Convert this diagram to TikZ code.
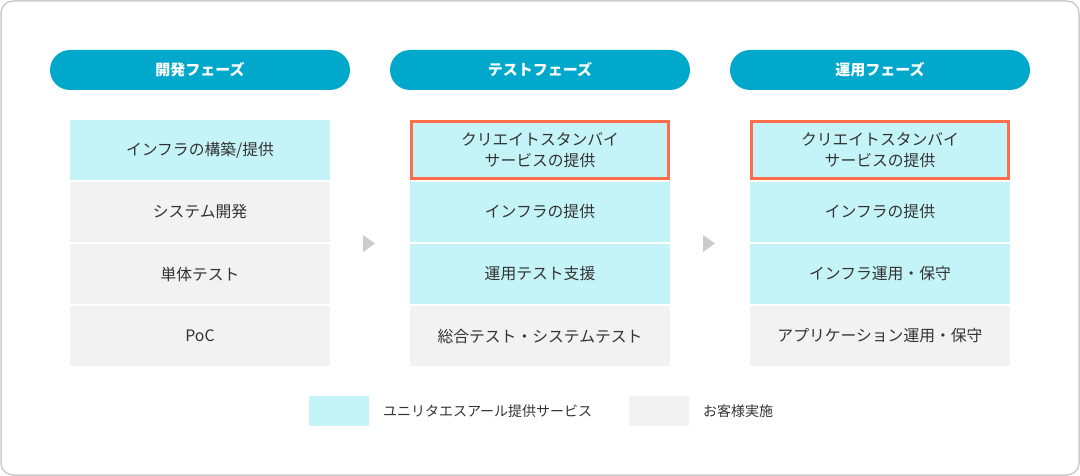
\documentclass[tikz,border=0pt]{standalone}
\usepackage{fontspec}
\setmainfont{Noto Sans CJK JP}
\usetikzlibrary{positioning}
\definecolor{frame}{HTML}{CCCCCC}
\definecolor{phase}{HTML}{00A9CC}
\definecolor{ours}{HTML}{C5F4F8}
\definecolor{client}{HTML}{F2F2F2}
\definecolor{accent}{HTML}{FF6E4A}
\definecolor{ink}{HTML}{333333}
\definecolor{pointer}{HTML}{CCCCCC}
\tikzstyle{base}=[x=1pt, y=-1pt, inner sep=0pt, outer sep=0pt]
\tikzstyle{phasebox}=[rounded corners=20pt, fill=phase, text=white, minimum width=300pt, minimum height=40pt, font=\bfseries\fontsize{15}{17}\selectfont]
\tikzstyle{cell}=[minimum width=260pt, minimum height=60pt, text=ink, align=center, font=\fontsize{15.8}{21}\selectfont]
\tikzstyle{ourcell}=[cell, fill=ours]
\tikzstyle{clientcell}=[cell, fill=client]
\tikzstyle{framedcell}=[ourcell, draw=accent, line width=3pt, minimum width=257pt, minimum height=57pt]
\tikzstyle{keybox}=[minimum width=60pt, minimum height=30pt]
\tikzstyle{keytext}=[right=14pt of #1, anchor=west, text=ink, font=\fontsize{14}{16}\selectfont]

\begin{document}
\begin{tikzpicture}[base]
    \path [use as bounding box] (0,0) rectangle (1080,476);
    \draw [frame, line width=1.5pt, rounded corners=12pt] (1,1) rectangle (1079,475);
    % phases
    \node [phasebox] (dev) at (200,70) {開発フェーズ};
    \node [phasebox] (test) at (540,70) {テストフェーズ};
    \node [phasebox] (ops) at (880,70) {運用フェーズ};
    % development
    \node [ourcell] (dev1) at (200,150) {インフラの構築/提供};
    \node [clientcell, below=2pt of dev1] (dev2) {システム開発};
    \node [clientcell, below=2pt of dev2] (dev3) {単体テスト};
    \node [clientcell, below=2pt of dev3] (dev4) {PoC};
    % test
    \node [framedcell] (test1) at (540,150) {クリエイトスタンバイ\\サービスの提供};
    \node [ourcell, below=3.5pt of test1] (test2) {インフラの提供};
    \node [ourcell, below=2pt of test2] (test3) {運用テスト支援};
    \node [clientcell, below=2pt of test3] (test4) {総合テスト・システムテスト};
    % operation
    \node [framedcell] (ops1) at (880,150) {クリエイトスタンバイ\\サービスの提供};
    \node [ourcell, below=3.5pt of ops1] (ops2) {インフラの提供};
    \node [ourcell, below=2pt of ops2] (ops3) {インフラ運用・保守};
    \node [clientcell, below=2pt of ops3] (ops4) {アプリケーション運用・保守};
    % pointers
    \fill [pointer] (363,235) -- (375,243.5) -- (363,252) -- cycle;
    \fill [pointer] (703,235) -- (715,243.5) -- (703,252) -- cycle;
    % legend
    \node [keybox, fill=ours] (keyours) at (339,411) {};
    \node [keytext=keyours] (keyourstext) {ユニリタエスアール提供サービス};
    \node [keybox, fill=client] (keyclient) at (659,411) {};
    \node [keytext=keyclient] (keyclienttext) {お客様実施};
\end{tikzpicture}
\end{document}
